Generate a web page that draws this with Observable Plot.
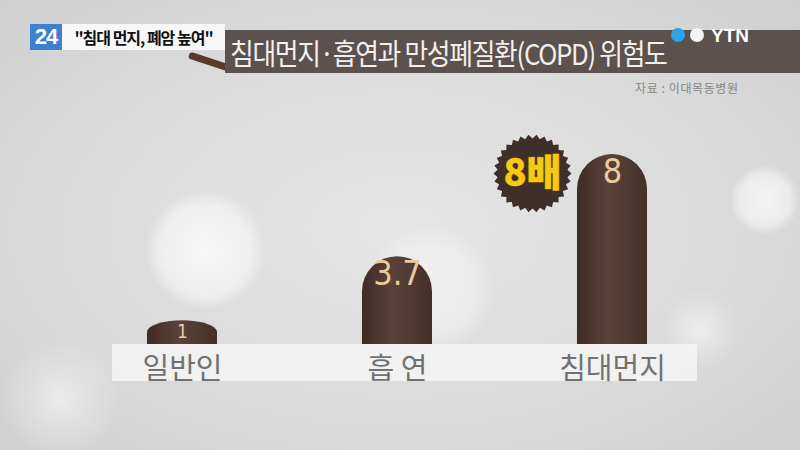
<!DOCTYPE html>
<html>
<head>
<meta charset="utf-8">
<script src="https://cdn.jsdelivr.net/npm/d3@7"></script>
<script src="https://cdn.jsdelivr.net/npm/@observablehq/plot@0.6"></script>
<style>
  body { margin: 0; font-family: "Noto Sans CJK KR", "Noto Sans", sans-serif; }
  #frame {
    position: relative; width: 800px; height: 450px; overflow: hidden;
    background:
      radial-gradient(circle at 205px 250px, rgba(255,255,255,0.75) 0, rgba(255,255,255,0.5) 45px, rgba(255,255,255,0) 60px),
      radial-gradient(circle at 430px 290px, rgba(255,255,255,0.45) 0, rgba(255,255,255,0.3) 45px, rgba(255,255,255,0) 65px),
      radial-gradient(circle at 765px 200px, rgba(255,255,255,0.7) 0, rgba(255,255,255,0.5) 25px, rgba(255,255,255,0) 35px),
      radial-gradient(circle at 700px 330px, rgba(255,255,255,0.5) 0, rgba(255,255,255,0) 40px),
      radial-gradient(circle at 60px 400px, rgba(255,255,255,0.5) 0, rgba(255,255,255,0) 60px),
      radial-gradient(ellipse at 400px 230px, #e6e6e6 0, #d8d8d8 70%, #cfcfcf 100%);
  }
  #band { position: absolute; left: 112px; top: 344px; width: 585px; height: 37px; background: rgba(246,246,246,0.8); }
  #plot { position: absolute; left: 0; top: 0; }
  #tag24 { position: absolute; left: 30px; top: 24px; width: 32px; height: 26px; background: #3d80cf;
    color: #fff; font: 700 22px/26px "Liberation Sans", sans-serif; text-align: center; letter-spacing: -1px; }
  #tagtxt { position: absolute; left: 62px; top: 24px; width: 163px; height: 26px; background: #f7f7f7;
    color: #111; font-weight: 700; font-size: 16px; line-height: 26px; text-align: center; letter-spacing: -1px; }
  #stick { position: absolute; left: 188px; top: 58px; width: 42px; height: 7px; background: #5a3a2c;
    transform: rotate(18deg); border-radius: 3px; }
  #titlebar { position: absolute; left: 225px; top: 30px; width: 575px; height: 43px; background: #5b5250; }
  #title { position: absolute; left: 230px; top: 31px; color: #f3efec; font-size: 29px; line-height: 42px;
    letter-spacing: -1.5px; white-space: nowrap; transform: scaleX(0.89); transform-origin: 0 50%; }
  .ydot { position: absolute; top: 28px; width: 14px; height: 14px; border-radius: 50%; }
  #ytn { position: absolute; left: 711px; top: 25px; color: #fff; font: 700 19px/22px "Liberation Sans", sans-serif; }
  #source { position: absolute; left: 635px; top: 79px; color: #878787; font-size: 12px; letter-spacing: 0.6px; }
</style>
</head>
<body>
<div id="frame">
  <div id="band"></div>
  <div id="plot"></div>
  <div id="stick"></div>
  <div id="tag24">24</div>
  <div id="tagtxt">"침대 먼지, 폐암 높여"</div>
  <div id="titlebar"></div>
  <div id="title">침대먼지·흡연과 만성폐질환(COPD) 위험도</div>
  <div class="ydot" style="left:671px;background:#2fa3e8"></div>
  <div class="ydot" style="left:690px;background:#f4f4f4"></div>
  <div id="ytn">YTN</div>
  <div id="source">자료 : 이대목동병원</div>
</div>
<script>
const categories = ["일반인", "흡연", "침대먼지"];
const labels = ["일반인", "흡 연", "침대먼지"];
const values = [1, 3.7, 8];
const valueLabels = ["1", "3.7", "8"];
const badgeCategory = "침대먼지";
const badgeValue = 8;
const badgeText = "8배";

const data = categories.map((c, i) => ({cat: c, val: values[i], label: labels[i], vl: valueLabels[i]}));
const badge = [{cat: badgeCategory, val: badgeValue, text: badgeText}];

// starburst symbol for the "8배" badge
const burst = {
  draw(ctx, size) {
    const r = Math.sqrt(size / Math.PI);
    const n = 30;
    for (let i = 0; i < n * 2; i++) {
      const a = (i / (n * 2)) * Math.PI * 2;
      const rr = i % 2 ? r * 0.9 : r;
      const px = Math.cos(a) * rr, py = Math.sin(a) * rr;
      if (i === 0) ctx.moveTo(px, py); else ctx.lineTo(px, py);
    }
    ctx.closePath();
  }
};

const font = '"Noto Sans CJK KR", sans-serif';
const narrow = '"Liberation Sans Narrow", "DejaVu Sans Condensed", sans-serif';

const plot = Plot.plot({
  width: 800,
  height: 450,
  margin: 0,
  style: {background: "transparent", overflow: "visible"},
  x: {domain: categories, range: [74.5, 719.5], paddingInner: 0.674, paddingOuter: 0.337, axis: null},
  y: {domain: [0, 8], range: [344, 154], axis: null},
  marks: [
    // rounded top part
    Plot.barY(data, {x: "cat", y: "val", fill: "url(#barGrad)", rx: 35, ry: 35}),
    // square lower half, hides the bottom corners
    Plot.barY(data, {x: "cat", y: d => d.val / 2, fill: "url(#barGrad)"}),
    // the short dome gets a smaller number so it stays inside
    Plot.text(data, {x: "cat", y: "val", text: "vl", lineAnchor: "top", dy: 4,
      fontSize: d => d.val < 2 ? 19 : 34, fill: "#ebcb9c", fontFamily: narrow}),
    Plot.text(data, {x: "cat", y: 0, text: "label", dy: 25, fill: "#717171", fontSize: 29, fontFamily: font}),
    Plot.dot(badge, {x: "cat", y: "val", r: 39, symbol: burst, fill: "#3f2f2a", dx: -80, dy: 19}),
    Plot.text(badge, {x: "cat", y: "val", text: "text", dx: -80, dy: 19, fill: "#f7c90f", stroke: "#b9780c",
      strokeWidth: 0.8, fontSize: 38, fontWeight: 900, fontFamily: font})
  ]
});

d3.select(plot).append("defs").html(`
  <linearGradient id="barGrad" x1="0" x2="1" y1="0" y2="0">
    <stop offset="0" stop-color="#3f2b25"/>
    <stop offset="0.45" stop-color="#5b4239"/>
    <stop offset="1" stop-color="#43302a"/>
  </linearGradient>`);

document.getElementById("plot").appendChild(plot);
</script>
</body>
</html>
